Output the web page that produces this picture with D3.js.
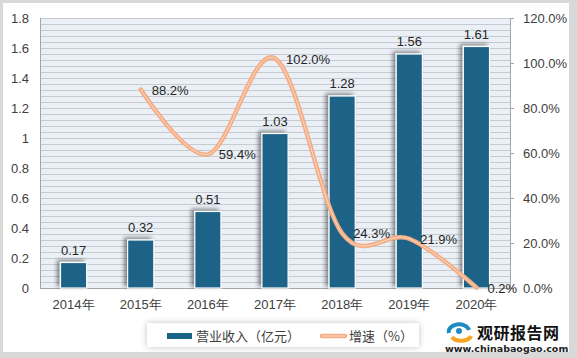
<!DOCTYPE html>
<html><head><meta charset="utf-8">
<script src="https://cdn.jsdelivr.net/npm/d3@7/dist/d3.min.js"></script>
<style>body{margin:0;background:#fff}svg{display:block;font-family:"Microsoft YaHei","Noto Sans CJK SC",sans-serif}</style>
</head><body>
<script>
const categories = ["2014年","2015年","2016年","2017年","2018年","2019年","2020年"];
const revenue = [0.17,0.32,0.51,1.03,1.28,1.56,1.61];
const growth = [null,88.2,59.4,102.0,24.3,21.9,0.2];
const leftTicks = [0,0.2,0.4,0.6,0.8,1,1.2,1.4,1.6,1.8];
const rightTicks = [0,20,40,60,80,100,120];
const legendLabels = ["营业收入（亿元）","增速（%）"];

const W=577,H=358;
const svg=d3.select("body").append("svg").attr("width",W).attr("height",H);
const defs=svg.append("defs");
const f=defs.append("filter").attr("id","sh").attr("x","-50%").attr("y","-20%").attr("width","200%").attr("height","140%");
f.append("feGaussianBlur").attr("in","SourceAlpha").attr("stdDeviation",2.2);
f.append("feOffset").attr("dx",-3).attr("dy",-2).attr("result","b");
f.append("feComponentTransfer").append("feFuncA").attr("type","linear").attr("slope",0.45);
const fm=f.append("feMerge");fm.append("feMergeNode");fm.append("feMergeNode").attr("in","SourceGraphic");
const f2=defs.append("filter").attr("id","sh2").attr("x","-20%").attr("y","-50%").attr("width","140%").attr("height","200%");
f2.append("feGaussianBlur").attr("in","SourceAlpha").attr("stdDeviation",3);
f2.append("feOffset").attr("dx",0).attr("dy",0);
f2.append("feComponentTransfer").append("feFuncA").attr("type","linear").attr("slope",0.25);
const fm2=f2.append("feMerge");fm2.append("feMergeNode");fm2.append("feMergeNode").attr("in","SourceGraphic");

svg.append("rect").attr("width",W).attr("height",H).attr("fill","#d9d9d9");
svg.append("rect").attr("x",3).attr("y",3).attr("width",566).attr("height",349).attr("fill","#fff");

const L=40,R=510,T=18,B=288;
const x=d3.scaleBand().domain(categories).range([L,R]).paddingInner(0.61).paddingOuter(0.305);
const xc=d=>x(d)+x.bandwidth()/2;
const y=d3.scaleLinear().domain([0,1.8]).range([B,T]);
const y2=d3.scaleLinear().domain([0,120]).range([B,T]);

svg.append("rect").attr("x",L).attr("y",T).attr("width",R-L).attr("height",B-T).attr("fill","#eaf0f6");
const grid=d3.range(0,1.8001,0.04);
svg.append("g").selectAll("line").data(grid).join("line")
  .attr("x1",L).attr("x2",R).attr("y1",d=>Math.round(y(d))+0.5).attr("y2",d=>Math.round(y(d))+0.5)
  .attr("stroke","#c6cbd1").attr("stroke-width",1);
svg.append("line").attr("x1",L+0.5).attr("x2",L+0.5).attr("y1",T).attr("y2",B).attr("stroke","#a6a6a6");
svg.append("line").attr("x1",L).attr("x2",R).attr("y1",B+0.5).attr("y2",B+0.5).attr("stroke","#a6a6a6");

// left axis
const ga=svg.append("g").attr("transform",`translate(${L},0)`).call(d3.axisLeft(y).tickValues(leftTicks).tickFormat(d3.format("~g")).tickSize(0).tickPadding(11));
ga.select(".domain").remove();
ga.selectAll("text").attr("font-size",13).attr("fill","#404040").attr("font-family","Liberation Sans, Arial, sans-serif");
// right axis
const gr=svg.append("g").attr("transform",`translate(${R},0)`).call(d3.axisRight(y2).tickValues(rightTicks).tickFormat(d=>d.toFixed(1)+"%").tickSize(4).tickPadding(9));
gr.select(".domain").attr("stroke","#a6a6a6");
gr.selectAll("line").attr("stroke","#a6a6a6");
gr.selectAll("text").attr("font-size",13).attr("fill","#404040").attr("font-family","Liberation Sans, Arial, sans-serif");
// x axis
const gx=svg.append("g").attr("transform",`translate(0,${B})`).call(d3.axisBottom(x).tickSize(0).tickPadding(12));
gx.select(".domain").remove();
gx.selectAll("text").attr("font-size",13).attr("fill","#404040");

// bars
svg.append("g").selectAll("rect").data(revenue).join("rect")
  .attr("x",(d,i)=>x(categories[i])).attr("width",x.bandwidth())
  .attr("y",d=>y(d)).attr("height",d=>B-y(d))
  .attr("fill","#1b6387").attr("stroke","#fff").attr("stroke-width",1.2).attr("filter","url(#sh)");
svg.append("g").selectAll("text").data(revenue).join("text")
  .attr("x",(d,i)=>xc(categories[i])).attr("y",d=>y(d)-8).attr("text-anchor","middle")
  .attr("font-size",13).attr("fill","#262626").attr("font-family","Liberation Sans, Arial, sans-serif").text(d=>d);

// line
const pts=growth.map((g,i)=>[xc(categories[i]),g]).filter(p=>p[1]!==null);
const line=d3.line().x(p=>p[0]).y(p=>y2(p[1])).curve(d3.curveCardinal.tension(0));
svg.append("path").attr("d",line(pts)).attr("fill","none").attr("stroke","#f4ad84").attr("stroke-width",4.5).attr("stroke-linecap","round");
svg.append("path").attr("d",line(pts)).attr("fill","none").attr("stroke","#fbd9c4").attr("stroke-width",1);
svg.append("g").selectAll("text").data(pts).join("text")
  .attr("x",p=>p[0]+11).attr("y",p=>y2(p[1])+5)
  .attr("font-size",13).attr("fill","#262626").attr("font-family","Liberation Sans, Arial, sans-serif").text(p=>p[1].toFixed(1)+"%");

// legend
const lg=svg.append("g");
lg.append("rect").attr("x",147).attr("y",323).attr("width",272).attr("height",24).attr("fill","#fff").attr("filter","url(#sh2)");
lg.append("rect").attr("x",167).attr("y",333).attr("width",25).attr("height",6).attr("fill","#1b6387");
lg.append("text").attr("x",196).attr("y",341).attr("font-size",13).attr("fill","#404040").text(legendLabels[0]);
lg.append("line").attr("x1",322).attr("x2",345).attr("y1",336).attr("y2",336).attr("stroke","#f4ad84").attr("stroke-width",4.5).attr("stroke-linecap","round");
lg.append("line").attr("x1",322).attr("x2",345).attr("y1",336).attr("y2",336).attr("stroke","#fbd9c4").attr("stroke-width",1);
lg.append("text").attr("x",349).attr("y",341).attr("font-size",13).attr("fill","#404040").text(legendLabels[1]);

// watermark
const wm=svg.append("g");
wm.append("path").attr("d","M449,333 a10,7 0 1,1 20,-3").attr("fill","none").attr("stroke","#1f8ac0").attr("stroke-width",4);
wm.append("path").attr("d","M452,337 a10,6 0 0,0 19,-1").attr("fill","none").attr("stroke","#f5a623").attr("stroke-width",4);
wm.append("circle").attr("cx",459).attr("cy",331).attr("r",3).attr("fill","#1f8ac0");
wm.append("text").attr("x",477).attr("y",339).attr("font-size",16).attr("font-weight","bold").attr("fill","#111").attr("letter-spacing",0.5).text("观研报告网");
wm.append("text").attr("x",445).attr("y",352).attr("font-size",9.5).attr("font-weight","bold").attr("fill","#222").attr("font-family","DejaVu Sans, sans-serif").text("www.chinabaogao.com");
</script>
</body></html>
